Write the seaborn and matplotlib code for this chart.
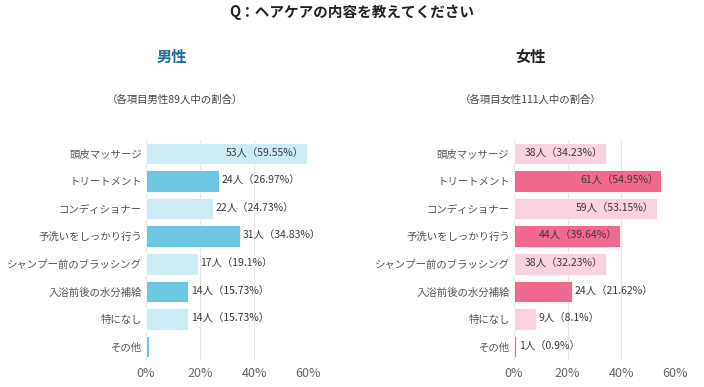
import numpy as np
import pandas as pd
import seaborn as sns
import matplotlib.pyplot as plt
from matplotlib import transforms

sns.set_theme(style="white")
plt.rcParams['font.family'] = ['Noto Sans CJK JP', 'DejaVu Sans']

# data
items = ["頭皮マッサージ", "トリートメント", "コンディショナー", "予洗いをしっかり行う",
         "シャンプー前のブラッシング", "入浴前後の水分補給", "特になし", "その他"]
male_pct = [59.55, 26.97, 24.73, 34.83, 19.1, 15.73, 15.73, 1.12]
male_labels = ["53人（59.55%）", "24人（26.97%）", "22人（24.73%）", "31人（34.83%）",
               "17人（19.1%）", "14人（15.73%）", "14人（15.73%）", ""]
female_pct = [34.23, 54.95, 53.15, 39.64, 34.23, 21.62, 8.1, 0.9]
female_labels = ["38人（34.23%）", "61人（54.95%）", "59人（53.15%）", "44人（39.64%）",
                 "38人（32.23%）", "24人（21.62%）", "9人（8.1%）", "1人（0.9%）"]
xticks = [0, 20, 40, 60]

fig = plt.figure(figsize=(7.04, 3.87), dpi=100)


def draw(ax, pct, labels, light, dark, inside_min):
    df = pd.DataFrame({"item": items, "pct": pct})
    colors = [light if i % 2 == 0 else dark for i in range(len(items))]
    sns.barplot(data=df, x="pct", y="item", hue="item", palette=colors, saturation=1,
                legend=False, width=0.78, ax=ax, edgecolor="white", linewidth=0.6)
    ax.set_xlim(0, 60)
    ax.set_ylim(len(items) - 0.5, -0.5)
    ax.set_xticks(xticks)
    ax.set_xticklabels([f"{t}%" for t in xticks], fontsize=9, color="#666666")
    ax.tick_params(axis="y", labelsize=7.5, colors="#555555", length=0, pad=3)
    ax.tick_params(axis="x", length=0, pad=5)
    ax.set_xlabel("")
    ax.set_ylabel("")
    ax.grid(axis="x", color="#e6e6e6", linewidth=0.8)
    ax.set_axisbelow(True)
    for s in ax.spines.values():
        s.set_visible(False)
    pad_in = transforms.offset_copy(ax.transData, fig=fig, x=-3, y=0, units="dots")
    pad_out = transforms.offset_copy(ax.transData, fig=fig, x=3, y=0, units="dots")
    for i, (v, lab) in enumerate(zip(pct, labels)):
        if not lab:
            continue
        if v > inside_min:
            ax.text(v, i, lab, ha="right", va="center", fontsize=7.5,
                    color="#3a3a3a", transform=pad_in)
        else:
            ax.text(v, i, lab, ha="left", va="center", fontsize=7.5,
                    color="#3a3a3a", transform=pad_out)


ax1 = fig.add_axes([0.2074, 0.069, 0.2301, 0.570])
draw(ax1, male_pct, male_labels, "#cdebf5", "#6dc6e2", 50)
ax2 = fig.add_axes([0.730, 0.069, 0.2287, 0.570])
draw(ax2, female_pct, female_labels, "#fad1df", "#f2698f", 30)

fig.text(0.5, 0.968, "Q：ヘアケアの内容を教えてください", ha="center", va="center",
         fontsize=10.5, fontweight="bold", color="#222222")
fig.text(0.244, 0.853, "男性", ha="center", va="center", fontsize=11,
         fontweight="bold", color="#1f6d9c")
fig.text(0.754, 0.853, "女性", ha="center", va="center", fontsize=11,
         fontweight="bold", color="#222222")
fig.text(0.249, 0.741, "（各項目男性89人中の割合）", ha="center", va="center",
         fontsize=7.5, color="#444444")
fig.text(0.754, 0.741, "（各項目女性111人中の割合）", ha="center", va="center",
         fontsize=7.5, color="#444444")

plt.savefig("out.png", dpi=100)
